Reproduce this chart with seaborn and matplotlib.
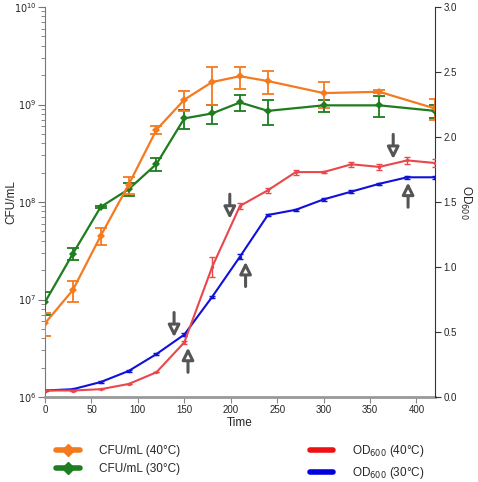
import numpy as np
import pandas as pd
import matplotlib
matplotlib.use('Agg')
import matplotlib.pyplot as plt
from matplotlib.lines import Line2D
from matplotlib.ticker import LogLocator, FuncFormatter, MultipleLocator
import seaborn as sns

# CFU counts (left, log axis)
cfu_time = [0, 30, 60, 90, 120, 150, 180, 210, 240, 300, 360, 420]
cfu_40 = [5.7e6, 1.25e7, 4.5e7, 1.5e8, 5.5e8, 1.12e9, 1.7e9, 1.95e9, 1.74e9, 1.31e9, 1.35e9, 9.1e8]
cfu_40_err = [1.5e6, 3e6, 9e6, 3e7, 5e7, 2.7e8, 7e8, 5e8, 4.5e8, 3.8e8, 5e7, 2.2e8]
cfu_30 = [9.4e6, 2.95e7, 8.9e7, 1.35e8, 2.45e8, 7.2e8, 8.1e8, 1.05e9, 8.6e8, 9.8e8, 9.8e8, 8.6e8]
cfu_30_err = [2.4e6, 4e6, 3e6, 2e7, 3.5e7, 1.6e8, 1.8e8, 2e8, 2.5e8, 1.4e8, 2.3e8, 1.3e8]

# OD600 (right axis)
od_time = [0, 30, 60, 90, 120, 150, 180, 210, 240, 270, 300, 330, 360, 390, 420]
od_40 = [0.05, 0.05, 0.06, 0.10, 0.19, 0.42, 1.00, 1.47, 1.59, 1.73, 1.73, 1.79, 1.77, 1.82, 1.80]
od_40_err = [0, 0, 0, 0, 0, 0.01, 0.08, 0.02, 0.02, 0.02, 0.01, 0.02, 0.02, 0.03, 0.03]
od_30 = [0.05, 0.06, 0.115, 0.20, 0.33, 0.48, 0.77, 1.08, 1.40, 1.44, 1.52, 1.58, 1.64, 1.69, 1.69]
od_30_err = [0.005, 0.005, 0.005, 0.005, 0.005, 0.01, 0.01, 0.02, 0.01, 0.01, 0.01, 0.01, 0.01, 0.01, 0.01]

# arrow annotations on the OD axis: (time, tail, tip)
arrows_down = [(139, 0.65, 0.46), (199, 1.56, 1.37), (375, 2.02, 1.83)]
arrows_up = [(154, 0.19, 0.38), (216, 0.85, 1.04), (391, 1.46, 1.65)]

c_orange = '#f47a20'
c_green = '#1e7d1e'
c_red = '#e8474b'
c_blue = '#1010d8'

sns.set_style('ticks')
plt.rcParams['font.family'] = ['Liberation Sans', 'DejaVu Sans']

cfu = pd.DataFrame({'Time': cfu_time * 2,
                    'CFU': cfu_40 + cfu_30,
                    'err': cfu_40_err + cfu_30_err,
                    'Temp': ['40'] * len(cfu_time) + ['30'] * len(cfu_time)})
od = pd.DataFrame({'Time': od_time * 2,
                   'OD': od_40 + od_30,
                   'err': od_40_err + od_30_err,
                   'Temp': ['40'] * len(od_time) + ['30'] * len(od_time)})

fig = plt.figure(figsize=(4.78, 4.82), dpi=100)
ax = fig.add_axes([45 / 478, 1 - 397 / 482, 390 / 478, 390 / 482])
ax2 = ax.twinx()

# CFU curves
for temp, col in [('30', c_green), ('40', c_orange)]:
    d = cfu[cfu['Temp'] == temp]
    ax.errorbar(d['Time'], d['CFU'], yerr=d['err'], fmt='none', ecolor=col,
                elinewidth=1.3, capsize=4, capthick=1.3, zorder=3)
sns.lineplot(data=cfu, x='Time', y='CFU', hue='Temp', palette={'40': c_orange, '30': c_green},
             hue_order=['30', '40'], marker='D', markersize=4, markeredgewidth=0,
             linewidth=1.6, legend=False, ax=ax, zorder=4)

# OD curves
for temp, col in [('30', c_blue), ('40', c_red)]:
    d = od[od['Temp'] == temp]
    ax2.errorbar(d['Time'], d['OD'], yerr=d['err'], fmt='none', ecolor=col,
                 elinewidth=1, capsize=2.5, capthick=1, zorder=3)
sns.lineplot(data=od, x='Time', y='OD', hue='Temp', palette={'40': c_red, '30': c_blue},
             hue_order=['30', '40'], marker='o', markersize=2.5, markeredgewidth=0,
             linewidth=1.5, legend=False, ax=ax2, zorder=4)

for x, tail, tip in arrows_down + arrows_up:
    ax2.annotate('', xy=(x, tip), xytext=(x, tail),
                 arrowprops=dict(arrowstyle='-|>,head_length=0.7,head_width=0.35',
                                 lw=2.2, ec='#555555', fc='white', shrinkA=0, shrinkB=0),
                 zorder=6)

ax.set_yscale('log')
ax.set_ylim(1e6, 1e10)
ax.set_xlim(0, 420)
ax2.set_ylim(0, 3.0)
ax.yaxis.set_major_locator(LogLocator(base=10))
ax.yaxis.set_minor_locator(LogLocator(base=10, subs=np.arange(2, 10)))
ax.yaxis.set_major_formatter(FuncFormatter(lambda v, p: r'$10^{%d}$' % round(np.log10(v))))
ax.yaxis.set_minor_formatter(FuncFormatter(lambda v, p: ''))
ax.xaxis.set_major_locator(MultipleLocator(50))
ax2.yaxis.set_major_locator(MultipleLocator(0.5))
ax2.yaxis.set_major_formatter(FuncFormatter(lambda v, p: '%.1f' % v))

ax.tick_params(axis='x', labelsize=7, length=4, color='#888888', pad=2)
ax.tick_params(axis='y', which='major', labelsize=7, length=5, color='#777777', pad=1)
ax.tick_params(axis='y', which='minor', length=3, color='#777777')
ax2.tick_params(axis='y', labelsize=7, length=4, color='#333333', pad=2)

for a in (ax, ax2):
    a.spines['top'].set_visible(False)
    a.spines['left'].set_color('#777777')
    a.spines['bottom'].set_color('#999999')
    a.spines['bottom'].set_linewidth(2)
ax2.spines['right'].set_visible(True)
ax2.spines['right'].set_color('#333333')
ax.spines['right'].set_visible(False)
ax2.spines['left'].set_visible(False)
ax2.spines['bottom'].set_visible(False)

ax.set_xlabel('Time', fontsize=8.5, labelpad=1)
ax.set_ylabel('CFU/mL', fontsize=8.5)
ax.yaxis.set_label_coords(-0.072, 0.5)
ax2.set_ylabel('OD$_{600}$', fontsize=8.5, rotation=270, labelpad=12)

handles = [
    Line2D([], [], color=c_orange, lw=4, marker='D', markersize=6),
    Line2D([], [], color=c_green, lw=4, marker='D', markersize=6),
    Line2D([], [], color='#ee1111', lw=4),
    Line2D([], [], color='#0000dd', lw=4),
]
labels = ['CFU/mL (40°C)', 'CFU/mL (30°C)', 'OD$_{600}$ (40°C)', 'OD$_{600}$ (30°C)']
fig.legend(handles, labels, ncol=2, loc='center', bbox_to_anchor=(0.503, 1 - 462 / 482),
           frameon=False, fontsize=8.5, handlelength=2.0, handletextpad=1.6,
           columnspacing=11.0, labelspacing=0.55)

fig.savefig('out.png', dpi=100)
